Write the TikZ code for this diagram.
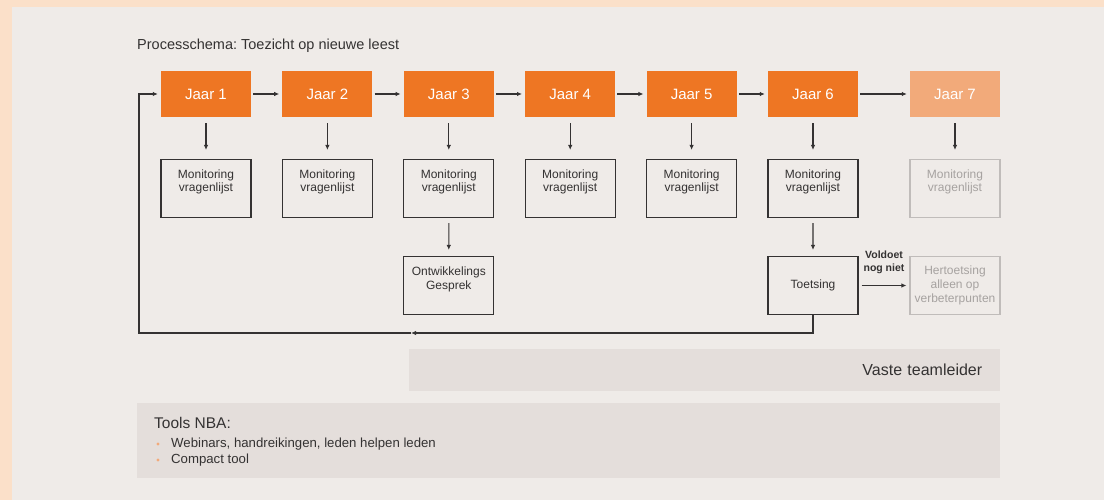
\documentclass[tikz,border=0pt]{standalone}
\usepackage{fontspec}
\setmainfont{Liberation Sans}
\usetikzlibrary{arrows.meta}
\frenchspacing

\definecolor{perzik}{RGB}{251,224,201}
\definecolor{vlak}{RGB}{239,235,232}
\definecolor{oranje}{RGB}{238,118,35}
\definecolor{lichtoranje}{RGB}{242,170,122}
\definecolor{lijngrijs}{RGB}{52,50,50}
\definecolor{vaalgrijs}{RGB}{192,188,186}
\definecolor{vaaltekst}{RGB}{166,162,160}
\definecolor{band}{RGB}{228,222,219}

\tikzset{
    jaar/.style={fill=oranje, text=white, minimum width=90pt, minimum height=46pt, inner sep=0pt, font=\fontsize{15}{16}\selectfont},
    kader/.style={draw=lijngrijs, line width=1.1pt, minimum width=90pt, minimum height=58pt, inner sep=0pt, text=lijngrijs, font=\fontsize{12}{13.5}\selectfont},
    vaal/.style={kader, draw=vaalgrijs, text=vaaltekst},
    lijn/.style={draw=lijngrijs, line width=1.1pt},
    pijl/.style={lijn, -{Latex[length=5pt,width=4.5pt]}},
    tekst/.style={text=lijngrijs, inner sep=0pt},
}
\newcommand{\bovenaan}[1]{\parbox[c][58pt][t]{88pt}{\centering\rule{0pt}{19pt}#1}}

\begin{document}
\begin{tikzpicture}[x=1pt, y=-1pt]
    % achtergrond
    \fill[perzik] (0,0) rectangle (1104,500);
    \fill[vlak] (12,7) rectangle (1104,500);
    \node[tekst, anchor=west, font=\fontsize{14.5}{16}\selectfont] (titel) at (137,46) {Processchema: Toezicht op nieuwe leest};

    % jaren en monitoring
    \foreach \i [evaluate=\i as \x using 206+121.4*(\i-1)] in {1,...,6}{
        \node[jaar] (j\i) at (\x,94) {Jaar \i};
        \node[kader] (m\i) at (\x,188.5) {\bovenaan{Monitoring\\vragenlijst}};
    }
    \node[jaar, fill=lichtoranje] (j7) at (955,94) {Jaar 7};
    \node[vaal] (m7) at (955,188.5) {\bovenaan{Monitoring\\vragenlijst}};
    \node[kader] (gesprek) at (448.8,285.5) {\bovenaan{Ontwikkelings\\Gesprek}};
    \node[kader] (toets) at (813,285.5) {Toetsing};
    \node[vaal, align=center, font=\fontsize{12}{14}\selectfont] (hertoets) at (955,285.5) {Hertoetsing\\alleen op\\verbeterpunten};

    \foreach \i [count=\k from 2] in {1,...,6}
        \draw[pijl, shorten <=2pt, shorten >=3pt] (j\i) -- (j\k);
    \foreach \i in {1,...,7}
        \draw[pijl, shorten <=6pt, shorten >=9pt] (j\i) -- (m\i);
    \draw[pijl, shorten <=5pt, shorten >=6pt] (m3) -- (gesprek);
    \draw[pijl, shorten <=5pt, shorten >=6pt] (m6) -- (toets);
    \draw[pijl, shorten <=3pt, shorten >=3pt] (toets) -- (hertoets);
    \node[tekst, align=center, font=\bfseries\fontsize{10.5}{13}\selectfont] (voldoet) at (884,262) {Voldoet\\nog niet};

    % terug naar jaar 1
    \coordinate (hoekR) at (813,333);
    \coordinate (midpijl) at (411,333);
    \coordinate (hoekL) at (139,333);
    \draw[pijl] (toets.south) -- (hoekR) -- (midpijl);
    \draw[pijl, shorten >=3pt] (midpijl) -- (hoekL) |- (j1.west);

    % banden onderaan
    \node[fill=band, anchor=north west, minimum height=42pt, text width=555pt, inner xsep=18pt, inner ysep=0pt, align=right, text=lijngrijs, font=\fontsize{16}{18}\selectfont] (vast) at (409,349) {Vaste teamleider};
    \node[fill=band, anchor=north west, minimum width=863pt, minimum height=75pt, inner sep=0pt] (tools) at (137,403) {};
    \node[tekst, anchor=west, font=\fontsize{15.5}{17}\selectfont] (toolstitel) at (154,423) {Tools NBA:};
    \node[tekst, anchor=west, font=\fontsize{13.2}{15}\selectfont] (item1) at (171,444) {Webinars, handreikingen, leden helpen leden};
    \node[tekst, anchor=west, font=\fontsize{13.2}{15}\selectfont] (item2) at (171,460) {Compact tool};
    \fill[lichtoranje] (158,444) circle (1.7pt) (158,460) circle (1.7pt);
\end{tikzpicture}
\end{document}
